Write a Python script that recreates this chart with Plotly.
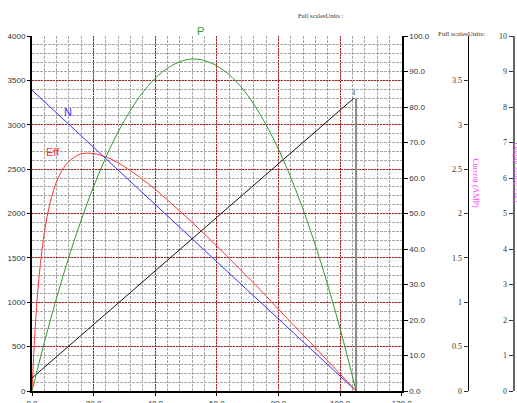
import plotly.graph_objects as go

# ---- data ----
torque = [0, 1, 2, 3, 4, 6, 8, 10, 12, 15, 18, 22, 26, 30, 35, 40, 45, 50, 55,
          60, 65, 70, 75, 80, 85, 90, 95, 100, 105.2]
eff = [0, 17.3, 29.3, 38.0, 44.6, 53.5, 59.0, 62.5, 64.7, 66.5, 67.0, 66.5, 65.2,
       63.2, 60.2, 56.8, 53.0, 49.1, 45.0, 40.8, 36.5, 32.1, 27.7, 23.0, 18.5,
       14.0, 9.4, 4.8, 0]

p_torque = [0, 5, 10, 15, 20, 25, 30, 35, 40, 45, 50, 52.6, 55, 60, 65, 70, 75,
            80, 85, 90, 95, 100, 105.2]
power = [0, 1.69, 3.22, 4.57, 5.76, 6.78, 7.62, 8.30, 8.81, 9.15, 9.33, 9.35,
         9.33, 9.16, 8.83, 8.33, 7.65, 6.81, 5.80, 4.62, 3.27, 1.76, 0]

n_torque = [0, 105.2]
speed = [3390, 0]

i_torque = [0, 104.5]
current = [0.146, 3.30]

stall_torque = [105.2, 105.2]
stall_current = [0, 3.30]

x_ticks = [0, 20, 40, 60, 80, 100, 120]
left_ticks = [0, 500, 1000, 1500, 2000, 2500, 3000, 3500, 4000]
right_ticks = [0, 10, 20, 30, 40, 50, 60, 70, 80, 90, 100]
cur_ticks = [0, 0.5, 1, 1.5, 2, 2.5, 3, 3.5]
pow_ticks = [0, 1, 2, 3, 4, 5, 6, 7, 8, 9, 10]

# ---- layout constants (body margin removed by post_script) ----
W, H = 517, 403
ML, MR, MT = 32, 0, 36
MB = H - 391
PW = W - ML - MR
PH = H - MT - MB
def px_x(px):
    return (px - ML) / PW
def px_y(py):
    return (H - MB - py) / PH

sans = "Liberation Sans, Arial, sans-serif"
serif = "Liberation Serif, Times New Roman, serif"

fig = go.Figure()
fig.add_trace(go.Scatter(x=n_torque, y=speed, mode="lines", yaxis="y",
                         line=dict(color="#3333ff", width=1), name="N"))
fig.add_trace(go.Scatter(x=torque, y=eff, mode="lines", yaxis="y2",
                         line=dict(color="#ff3333", width=1, shape="spline"), name="Eff"))
fig.add_trace(go.Scatter(x=p_torque, y=power, mode="lines", yaxis="y4",
                         line=dict(color="#339933", width=1, shape="spline"), name="P"))
fig.add_trace(go.Scatter(x=stall_torque, y=stall_current, mode="lines", yaxis="y3",
                         line=dict(color="#888888", width=2), name="stall"))
fig.add_trace(go.Scatter(x=i_torque, y=current, mode="lines", yaxis="y3",
                         line=dict(color="#111111", width=1), name="I"))

tickfont_sans = dict(family=sans, size=8, color="#333333")
tickfont_serif = dict(family=serif, size=8, color="#333333")

major_grid = dict(showgrid=True, gridcolor="#b02020", griddash="2px,1px", gridwidth=1)
minor_grid = dict(showgrid=True, gridcolor="#a8a8a8", griddash="3px,1px", gridwidth=1)

fig.update_layout(
    template="none",
    width=W, height=H,
    margin=dict(l=ML, r=MR, t=MT, b=MB, autoexpand=False),
    paper_bgcolor="white", plot_bgcolor="white",
    showlegend=False,
    xaxis=dict(domain=[0, px_x(401.7)], range=[0, 120], tickvals=x_ticks,
               tickformat=".1f", tickfont=tickfont_sans, automargin=False,
               showline=True, linecolor="black", linewidth=2,
               ticks="outside", ticklen=3, tickcolor="black",
               zeroline=False, **major_grid,
               minor=dict(dtick=4, **minor_grid)),
    yaxis=dict(range=[0, 4000], tickvals=left_ticks, tickfont=tickfont_sans,
               automargin=False,
               showline=True, linecolor="black", linewidth=2,
               ticks="outside", ticklen=3, tickcolor="black",
               zeroline=False, **major_grid,
               minor=dict(dtick=100, **minor_grid)),
    yaxis2=dict(overlaying="y", side="right", anchor="x", range=[0, 100],
                tickvals=right_ticks, tickformat=".1f", tickfont=tickfont_sans,
                automargin=False,
                showline=True, linecolor="black", linewidth=2,
                ticks="outside", ticklen=4, tickcolor="black",
                showgrid=False, zeroline=False),
    yaxis3=dict(overlaying="y", side="left", anchor="free", position=px_x(467.5),
                range=[0, 4], tickvals=cur_ticks, tickfont=tickfont_serif,
                automargin=False,
                showline=True, linecolor="black", linewidth=1.5,
                ticks="outside", ticklen=4, tickcolor="#333333",
                showgrid=False, zeroline=False),
    yaxis4=dict(overlaying="y", side="left", anchor="free", position=px_x(513.5),
                range=[0, 10], tickvals=pow_ticks, tickfont=tickfont_serif,
                automargin=False,
                showline=True, linecolor="#666666", linewidth=2,
                ticks="outside", ticklen=4, tickcolor="#333333",
                showgrid=False, zeroline=False),
)

ann = [
    dict(x=11.7, y=3140, xref="x", yref="y", text="N",
         font=dict(family=sans, size=11, color="#3333ff")),
    dict(x=6.9, y=2690, xref="x", yref="y", text="Eff",
         font=dict(family=sans, size=11, color="#ff3333")),
    dict(x=px_x(200), y=px_y(31), xref="paper", yref="paper", text="P",
         font=dict(family=sans, size=11, color="#339933")),
    dict(x=104.6, y=3.36, xref="x", yref="y3", text="I",
         font=dict(family=sans, size=8, color="#333333")),
    dict(x=px_x(320), y=px_y(15), xref="paper", yref="paper",
         text="Full scalesUnits :",
         font=dict(family=serif, size=6.5, color="#333333")),
    dict(x=px_x(461), y=px_y(34), xref="paper", yref="paper",
         text="Full scalesUnits:",
         font=dict(family=serif, size=7, color="#333333")),
    dict(x=px_x(475.5), y=px_y(183), xref="paper", yref="paper",
         text="Current (AMP)", textangle=90,
         font=dict(family=serif, size=8, color="#ff44ff")),
    dict(x=px_x(516.5), y=px_y(172), xref="paper", yref="paper",
         text="Output Power (W)", textangle=90,
         font=dict(family=serif, size=8, color="#ff66ff")),
]
for a in ann:
    a.update(showarrow=False)
    a.setdefault("xanchor", "center")
    a.setdefault("yanchor", "middle")
    fig.add_annotation(**a)

fig.write_html("out.html",
               config={"displayModeBar": False, "staticPlot": True},
               post_script="document.body.style.margin='0';"
                           "document.body.style.overflow='hidden';"
                           "document.documentElement.style.overflow='hidden';")
